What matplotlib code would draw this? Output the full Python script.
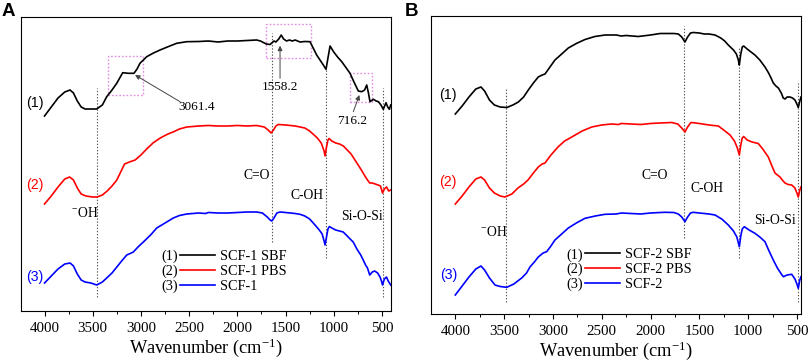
import matplotlib
matplotlib.use("Agg")
import matplotlib.pyplot as plt
from matplotlib.patches import Rectangle
from matplotlib.ticker import MultipleLocator

plt.rcParams['font.family'] = ['Liberation Serif', 'DejaVu Serif']
plt.rcParams['mathtext.fontset'] = 'stix'

# ---------------- Panel A data (wavenumber, transmittance a.u.) ----------------
a1_wn = [4000, 3930, 3860, 3790, 3735, 3700, 3660, 3620, 3580, 3520, 3459, 3400, 3355, 3300, 3251,
         3189, 3131, 3072, 3040, 3010, 2940, 2870, 2802, 2700, 2629, 2525, 2400, 2300, 2200, 2100,
         2000, 1900, 1800, 1760, 1700, 1660, 1620, 1600, 1570, 1545, 1520, 1490, 1460, 1430, 1400,
         1350, 1300, 1246, 1177, 1108, 1080, 1060, 1038, 1000, 960, 917, 870, 831, 790, 745, 710,
         680, 658, 640, 624, 589, 560, 537, 510, 486, 458, 440, 423, 409]
a1_val = [247, 256, 265, 271, 273, 270, 262, 256, 254, 254, 254, 258, 266.3, 273, 279.7,
          290.3, 289.7, 289.7, 294, 299.7, 306.3, 310, 313, 317, 319.7, 321.3, 321.5, 322, 321, 322,
          322, 322.5, 323, 322, 319, 318.5, 322, 321, 324, 328, 324, 322, 323, 322, 323,
          321, 321.5, 321.3, 308, 298, 293.7, 305, 317, 311, 306, 301.3, 295, 289.7, 281, 272, 271.3,
          273, 278, 270, 261.3, 263.7, 262, 261.3, 258, 253.7, 260.3, 256, 253.7, 258]

a2_wn = [4000, 3930, 3860, 3790, 3740, 3700, 3660, 3620, 3570, 3500, 3455, 3400, 3350, 3300, 3250,
         3200, 3170, 3120, 3060, 3000, 2940, 2875, 2800, 2720, 2667, 2600, 2525, 2400, 2300, 2200,
         2100, 2000, 1900, 1800, 1720, 1680, 1650, 1625, 1600, 1577, 1500, 1400, 1350, 1300, 1250,
         1215, 1170, 1130, 1100, 1090, 1075, 1060, 1048, 1020, 980, 940, 900, 860, 820, 800, 760,
         720, 695, 670, 650, 627, 600, 570, 540, 515, 494, 475, 452, 430, 409]
a2_val = [159, 167, 176, 184, 186, 183, 175, 169, 167, 166, 166, 168, 172, 177, 183,
          193, 199, 201, 203, 208, 214, 220, 225, 229, 231, 234, 236, 237, 237.5, 237,
          237, 237.5, 237, 237.5, 236, 233, 230, 233, 237, 238.5, 238, 237, 236, 235, 232,
          229, 225, 220, 212, 207, 216, 223, 224.5, 222, 220, 219, 217, 213, 209, 206, 200,
          194, 190, 186, 183, 180, 180, 179, 178, 177, 170, 174, 176, 172, 173]

a3_wn = [4000, 3930, 3860, 3790, 3735, 3700, 3660, 3620, 3580, 3520, 3458, 3400, 3355, 3300, 3250,
         3200, 3147, 3100, 3079, 3030, 2975, 2900, 2836, 2750, 2664, 2600, 2525, 2400, 2330, 2300,
         2200, 2100, 2000, 1900, 1800, 1740, 1690, 1660, 1643, 1620, 1590, 1557, 1500, 1400, 1350,
         1300, 1250, 1194, 1150, 1120, 1100, 1090, 1075, 1060, 1045, 1020, 980, 940, 902, 860, 830,
         798, 760, 720, 694, 670, 650, 627, 600, 575, 545, 520, 505, 494, 475, 453, 435, 409]
a3_val = [80, 87, 94, 99, 100, 97, 89, 83, 81, 80, 78, 81, 85, 90, 96,
          102, 108, 110, 111, 116, 121, 128, 135, 140, 145, 147.5, 149, 150, 149.5, 150.5,
          150, 150, 150.5, 151, 151, 150, 146, 143, 142, 145, 150, 151, 150.5, 149.5, 148.7,
          147, 144, 138, 133, 129, 122, 118, 126, 134, 136.5, 135, 133, 132, 131, 127, 124,
          121, 114, 108, 103, 98, 95, 88, 91, 92, 90, 86, 82, 78, 84, 86, 82, 78]

# ---------------- Panel B data ----------------
b1_wn = [4000, 3930, 3860, 3790, 3737, 3700, 3650, 3600, 3540, 3473, 3410, 3354, 3300, 3252, 3200,
         3150, 3110, 3081, 3030, 2979, 2910, 2842, 2760, 2671, 2570, 2466, 2350, 2300, 2250, 2125,
         2000, 1900, 1851, 1760, 1715, 1680, 1647, 1620, 1590, 1561, 1500, 1450, 1400, 1339, 1280,
         1240, 1203, 1150, 1120, 1100, 1090, 1075, 1060, 1045, 1010, 970, 930, 880, 827, 790, 760,
         742, 715, 690, 660, 640, 622, 600, 571, 545, 520, 500, 486, 470, 458]
b1_val = [249, 257, 266, 274, 276, 272, 263, 258, 256, 255.5, 258, 261, 266, 273, 280,
          286, 288, 289, 296, 303, 309, 315, 319.5, 323.5, 326.5, 328, 328, 327, 327.5, 326.5,
          328, 329.5, 329.5, 329.5, 329, 326, 321, 326, 330, 330.5, 330, 329, 329, 328, 325,
          322, 318, 313, 309, 303, 298, 309, 316, 317, 314, 311, 308, 303, 296, 290, 284,
          280, 277, 275, 270, 265, 264, 266, 266, 265, 263, 259, 255.5, 262, 266]

b2_wn = [4000, 3930, 3860, 3790, 3737, 3700, 3650, 3600, 3540, 3491, 3420, 3358, 3300, 3255, 3200,
         3150, 3110, 3081, 3020, 2948, 2880, 2807, 2700, 2602, 2500, 2400, 2330, 2300, 2200, 2100,
         2000, 1900, 1783, 1720, 1680, 1647, 1620, 1590, 1578, 1500, 1400, 1305, 1250, 1185, 1140,
         1110, 1090, 1075, 1060, 1045, 1010, 960, 896, 850, 793, 760, 725, 700, 673, 650, 622,
         590, 553, 520, 500, 486, 470, 458]
b2_val = [159, 167, 176, 184, 186, 183, 175, 170, 167, 166, 169, 175, 179, 183, 190,
          196, 199, 200, 208, 216, 222, 226, 232, 236, 238, 239, 238.5, 239.5, 239, 238.5,
          239.5, 240, 240.5, 239, 235, 231, 236, 240, 240.5, 239.5, 238, 237, 233, 228, 222,
          215, 208, 218, 225, 226.5, 223, 221, 219.5, 214, 206, 198, 190, 188, 186, 183, 180,
          178.5, 178, 175, 170, 166, 173, 176]

b3_wn = [4000, 3930, 3860, 3790, 3737, 3700, 3650, 3593, 3540, 3473, 3400, 3320, 3270, 3235, 3190,
         3150, 3100, 3064, 3020, 2979, 2910, 2842, 2760, 2671, 2566, 2466, 2350, 2300, 2200, 2100,
         2000, 1900, 1851, 1760, 1715, 1680, 1647, 1620, 1590, 1561, 1500, 1400, 1339, 1270, 1203,
         1150, 1115, 1090, 1075, 1060, 1039, 990, 930, 880, 827, 790, 742, 700, 660, 639, 600,
         553, 520, 500, 486, 470, 458]
b3_val = [68, 77, 86, 94, 97, 93, 85, 78, 76.5, 75.7, 79, 85, 90, 96, 101,
          106, 110, 111.3, 117, 123, 129, 135, 140, 144.7, 147, 148.7, 149, 150, 149.5, 149,
          150, 150.5, 150.7, 150.5, 149, 146, 141.3, 146, 150, 150.7, 150, 149, 148, 144, 138,
          132, 126, 116.3, 127, 134, 136.3, 133, 129.7, 126, 121.3, 113, 103, 95, 89, 86.3, 88,
          88.7, 84, 79, 74.7, 83, 86.3]

a_labels = ['SCF-1 SBF', 'SCF-1 PBS', 'SCF-1']
b_labels = ['SCF-2 SBF', 'SCF-2 PBS', 'SCF-2']
curve_tags = ['(1)', '(2)', '(3)']
colors = ['black', '#ff0000', '#0000ff']

# marker lines (wavenumber, v_top, v_bottom)
a_vlines = [(3458, 275, 66), (1643, 330, 121), (1080, 293, 105), (487, 275, 66)]
b_vlines = [(3484, 275, 61), (1653, 337, 125), (1090, 316, 105), (486, 280, 61)]

# ---------------- figure ----------------
W, H = 809, 363
fig = plt.figure(figsize=(W / 100, H / 100), dpi=100)

axA = fig.add_axes([21 / W, 1 - 310.7 / H, 370 / W, 293.4 / H])
axB = fig.add_axes([431 / W, 1 - 314.3 / H, 370 / W, 298.3 / H])

def style(ax, xlim, ylim):
    ax.set_xlim(*xlim)
    ax.set_ylim(*ylim)
    ax.set_yticks([])
    ax.xaxis.set_major_locator(MultipleLocator(500))
    ax.xaxis.set_minor_locator(MultipleLocator(250))
    ax.tick_params(axis='x', which='major', direction='out', length=3.5, width=0.8,
                   labelsize=10.8, pad=4.5, top=False)
    ax.tick_params(axis='x', which='minor', direction='out', length=2, width=0.7, top=False)
    for s in ax.spines.values():
        s.set_linewidth(0.8)
    ax.set_xlabel('Wavenumber (cm$^{\\mathregular{-1}}$)', fontsize=13.2, labelpad=1)

style(axA, (4244, 406), (52.3, 345.7))
style(axB, (4249, 458), (48.7, 347))

vline_kw = dict(color='#555555', lw=0.8, ls=(0, (1.2, 1.6)), zorder=1)
for ax, vl in ((axA, a_vlines), (axB, b_vlines)):
    for x, y0, y1 in vl:
        ax.plot([x, x], [y1, y0], **vline_kw)

hA = []
for wn, val, c in ((a1_wn, a1_val, colors[0]), (a2_wn, a2_val, colors[1]), (a3_wn, a3_val, colors[2])):
    hA += axA.plot(wn, val, color=c, lw=1.2, zorder=3)
hB = []
for wn, val, c in ((b1_wn, b1_val, colors[0]), (b2_wn, b2_val, colors[1]), (b3_wn, b3_val, colors[2])):
    hB += axB.plot(wn, val, color=c, lw=1.2, zorder=3)

# side curve tags (sans-serif)
a_tag_pos = [(4098, 259.7), (4098, 178), (4098, 86.3)]
b_tag_pos = [(4072, 268), (4072, 181), (4072, 88)]
for ax, pos in ((axA, a_tag_pos), (axB, b_tag_pos)):
    for (x, y), t, c in zip(pos, curve_tags, colors):
        ax.text(x, y, t, color=c, fontsize=10.2, family=['Liberation Sans', 'DejaVu Sans'],
                ha='center', va='center')

# group labels
tk = dict(fontsize=9.8, ha='center', va='center')
axA.text(1799, 188, 'C=O', **tk)
axA.text(1280, 168, 'C-OH', **tk)
axA.text(3580, 149.7, '$^{\\mathregular{-}}$OH', **tk)
axA.text(709, 146.3, 'Si-O-Si', **tk)
axB.text(1954, 188, 'C=O', **tk)
axB.text(1424, 174.7, 'C-OH', **tk)
axB.text(3611, 131.3, '$^{\\mathregular{-}}$OH', **tk)
axB.text(724, 143, 'Si-O-Si', **tk)

# peak annotations in panel A
arrow_kw = dict(arrowstyle='-|>', color='#444444', lw=0.7, mutation_scale=7, shrinkA=0, shrinkB=0)
axA.annotate('', xy=(3061, 288), xytext=(2594, 261.3), arrowprops=arrow_kw)
axA.text(2421, 255.7, '3061.4', fontsize=9.5, ha='center', va='center')
axA.annotate('', xy=(1557, 317.3), xytext=(1557, 284.7), arrowprops=arrow_kw)
axA.text(1557, 275.7, '1558.2', fontsize=9.5, ha='center', va='center')
axA.annotate('', xy=(734, 268), xytext=(797, 251.3), arrowprops=arrow_kw)
axA.text(813, 242.3, '716.2', fontsize=9.5, ha='center', va='center')

boxes = [(3344, 2981, 268, 307.3), (1705, 1240, 304.7, 338.7), (836, 604, 261.3, 289.7)]
for x0, x1, y0, y1 in boxes:
    axA.add_patch(Rectangle((x0, y0), x1 - x0, y1 - y0, fill=False, ec='#e38be3',
                            lw=1.0, ls=(0, (1.2, 1.4)), zorder=2))

# legends
def add_legend(ax, handles, labels, x_line, y_top, x_tag):
    leg = ax.legend(handles, labels, loc='upper left', bbox_to_anchor=(x_line, y_top),
                    frameon=False, borderpad=0, borderaxespad=0, handlelength=2.45,
                    handletextpad=0.35, labelspacing=0.12, fontsize=10.3)
    fig.canvas.draw()
    r = fig.canvas.get_renderer()
    inv = ax.transAxes.inverted()
    for t, tag in zip(leg.get_texts(), curve_tags):
        bb = t.get_window_extent(r)
        yc = inv.transform((0, (bb.y0 + bb.y1) / 2))[1]
        ax.text(x_tag, yc, tag, transform=ax.transAxes, fontsize=10.3, ha='center', va='center')
    return leg

add_legend(axA, hA, a_labels, 0.4297, 0.2066, 0.403)
add_legend(axB, hB, b_labels, 0.416, 0.221, 0.389)

fig.text(2 / W, 1 - 3 / H, 'A', fontsize=13.5, fontweight='bold', family=['Liberation Sans', 'DejaVu Sans'],
         ha='left', va='top')
fig.text(405 / W, 1 - 3 / H, 'B', fontsize=13.5, fontweight='bold', family=['Liberation Sans', 'DejaVu Sans'],
         ha='left', va='top')

fig.savefig('out.png', dpi=100)
